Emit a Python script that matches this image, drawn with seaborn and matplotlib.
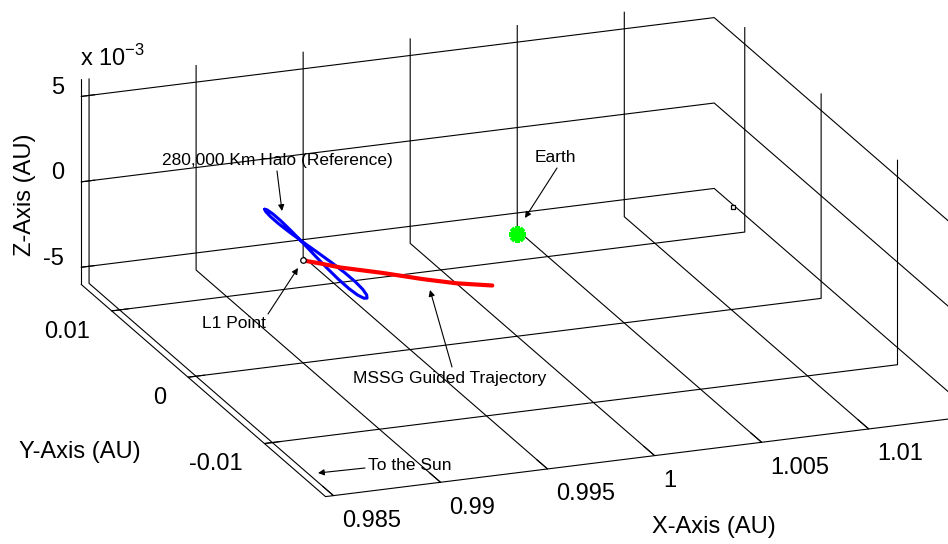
import numpy as np
import matplotlib
matplotlib.use("Agg")
import matplotlib.pyplot as plt
import seaborn as sns
from mpl_toolkits.mplot3d import proj3d

# ---- data (Sun-Earth rotating frame, AU) ----
# 280,000 km reference halo orbit about L1
halo_x = [0.990600, 0.990566, 0.990545, 0.990544, 0.990567, 0.990609, 0.990661,
          0.990709, 0.990739, 0.990743, 0.990717, 0.990666, 0.990600, 0.990534,
          0.990483, 0.990457, 0.990461, 0.990491, 0.990539, 0.990591, 0.990633,
          0.990656, 0.990655, 0.990634, 0.990600]
halo_y = [0.0067, 0.00647, 0.0058, 0.00474, 0.00335, 0.00173, 0.0,
          -0.00173, -0.00335, -0.00474, -0.0058, -0.00647, -0.0067, -0.00647,
          -0.0058, -0.00474, -0.00335, -0.00173, 0.0, 0.00173, 0.00335,
          0.00474, 0.0058, 0.00647, 0.0067]
halo_z = [0.000300, 0.000256, 0.000228, 0.000227, 0.000257, 0.000312, 0.000380,
          0.000441, 0.000481, 0.000485, 0.000452, 0.000385, 0.000300, 0.000215,
          0.000148, 0.000115, 0.000119, 0.000159, 0.000220, 0.000288, 0.000343,
          0.000373, 0.000372, 0.000344, 0.000300]

# MSSG guided trajectory leaving L1
traj_x = [0.99000, 0.99056, 0.99121, 0.99263, 0.99401, 0.99519, 0.99655]
traj_y = [0.0, -0.00069, -0.00157, -0.00293, -0.00443, -0.00554, -0.00642]
traj_z = [0.0, 0.0, 0.0, 0.0, 0.0, 0.0, 0.0]

# libration points and Earth
l1_point = [0.98999, 0.0, 0.0]
earth_point = [0.999997, 0.0, 0.0]
l2_point = [1.01007, 0.0, 0.0]

x_ticks = [0.985, 0.99, 0.995, 1.0, 1.005, 1.01]
x_tick_labels = ["0.985", "0.99", "0.995", "1", "1.005", "1.01"]
y_ticks = [-0.01, 0.0, 0.01]
y_tick_labels = ["-0.01", "0", "0.01"]
z_ticks = [-0.005, 0.0, 0.005]
z_tick_labels = ["-5", "0", "5"]

x_lim = (0.98463, 1.0142)
y_lim = (-0.018, 0.014)
z_lim = (-0.006, 0.006)

# ---- style ----
sns.set_theme(style="white")
plt.rcParams.update({
    "font.family": ["Liberation Sans", "DejaVu Sans"],
    "mathtext.fontset": "custom",
    "mathtext.rm": "Liberation Sans",
    "text.color": "black",
    "axes.labelcolor": "black",
    "xtick.color": "black",
    "ytick.color": "black",
    "grid.color": "black",
    "grid.linewidth": 0.8,
    "grid.linestyle": "-",
    "xtick.major.width": 0.8,
    "ytick.major.width": 0.8,
    "axes3d.automargin": False,
})

W, H = 948, 544
fig = plt.figure(figsize=(W / 100, H / 100), dpi=100)
side = 600.0
ax = fig.add_axes([0.15, 0.0, side / W, side / H], projection="3d", proj_type="ortho")
ax.view_init(elev=19.2, azim=-110.74)
ax.set_xlim(*x_lim)
ax.set_ylim(*y_lim)
ax.set_zlim(*z_lim)
ax.set_box_aspect((673.6, 686.7, 216.0))

ax.set_xticks(x_ticks)
ax.set_xticklabels(x_tick_labels, ha="left")
ax.set_yticks(y_ticks)
ax.set_yticklabels(y_tick_labels, ha="right")
ax.set_zticks(z_ticks)
ax.set_zticklabels(z_tick_labels, ha="right", va="baseline")
ax.tick_params(axis="x", labelsize=17, pad=4.5)
ax.tick_params(axis="y", labelsize=17, pad=4.5)
ax.tick_params(axis="z", labelsize=17, pad=-1)
ax.grid(True)

for axis, outward in ((ax.xaxis, 0.55), (ax.yaxis, 0.33), (ax.zaxis, 0.27)):
    axis.set_pane_color((1, 1, 1, 0))
    axis.line.set_color("black")
    axis.line.set_linewidth(0.8)
    axis._axinfo["tick"]["inward_factor"] = 0.0
    axis._axinfo["tick"]["outward_factor"] = outward
    axis._axinfo["grid"]["color"] = "black"
    axis._axinfo["grid"]["linewidth"] = 0.8

# ---- curves and markers ----
ax.plot(halo_x, halo_y, halo_z, color=(0, 0, 1), lw=2.2, zorder=3)
ax.plot(traj_x, traj_y, traj_z, color=(1, 0, 0), lw=3.0, zorder=4)
ax.plot([l1_point[0]], [l1_point[1]], [l1_point[2]], marker="o", ms=4,
        mfc="white", mec="black", mew=0.9, ls="none", zorder=5)
ax.plot([earth_point[0]], [earth_point[1]], [earth_point[2]], marker=(8, 2, 0),
        ms=12, mec=(0, 1, 0), mew=3.5, ls="none", zorder=5)
ax.plot([l2_point[0]], [l2_point[1]], [l2_point[2]], marker="s", ms=3.5,
        mfc="white", mec="black", mew=0.9, ls="none", zorder=5)

# ---- place the 3D box so its corners land where intended (pixels, y down) ----
fig.canvas.draw()
anchor_data = np.array([
    [x_lim[0], y_lim[1], z_lim[0]],
    [x_lim[0], y_lim[1], 0.005],
    [x_lim[1], y_lim[1], 0.005],
    [x_lim[0], y_lim[0], z_lim[0]],
])
anchor_px = np.array([[80, 283], [81, 98], [716, 19], [325, 495]], dtype=float)
anchor_px[:, 1] = H - anchor_px[:, 1]
px, py, _ = proj3d.proj_transform(anchor_data[:, 0], anchor_data[:, 1],
                                  anchor_data[:, 2], ax.get_proj())
disp = ax.transData.transform(np.column_stack([px, py]))
dm, tm = disp.mean(0), anchor_px.mean(0)
s = ((disp - dm) * (anchor_px - tm)).sum() / ((disp - dm) ** 2).sum()
t = tm - s * dm
bb = ax.bbox
cx, cy = (bb.x0 + bb.x1) / 2, (bb.y0 + bb.y1) / 2
new_side = s * bb.width
ncx, ncy = s * cx + t[0], s * cy + t[1]
ax.set_position([(ncx - new_side / 2) / W, (ncy - new_side / 2) / H,
                 new_side / W, new_side / H])

# ---- overlay for labels and callouts (pixel coordinates, y down) ----
ov = fig.add_axes([0, 0, 1, 1])
ov.set_xlim(0, W)
ov.set_ylim(H, 0)
ov.axis("off")
ov.patch.set_alpha(0)

ov.text(714, 527, "X-Axis (AU)", fontsize=17, ha="center", va="center")
ov.text(80, 452, "Y-Axis (AU)", fontsize=17, ha="center", va="center")
ov.text(25, 195, "Z-Axis (AU)", fontsize=17, ha="center", va="center", rotation=90)
ov.text(80, 58, "x 10$^{\\mathregular{-3}}$", fontsize=17, ha="left", va="center")

arrow = dict(arrowstyle="-|>", color="black", lw=0.8, mutation_scale=9,
             shrinkA=0, shrinkB=0)
ann_fs = 12.5
ov.text(277, 161, "280,000 Km Halo (Reference)", fontsize=ann_fs, ha="center", va="center")
ov.annotate("", xy=(282, 211), xytext=(277, 171), arrowprops=arrow)
ov.text(555, 157, "Earth", fontsize=ann_fs, ha="center", va="center")
ov.annotate("", xy=(525, 218), xytext=(557, 168), arrowprops=arrow)
ov.text(234, 323, "L1 Point", fontsize=ann_fs, ha="center", va="center")
ov.annotate("", xy=(298, 268), xytext=(268, 314), arrowprops=arrow)
ov.text(450, 378, "MSSG Guided Trajectory", fontsize=ann_fs, ha="center", va="center")
ov.annotate("", xy=(430, 290), xytext=(452, 367), arrowprops=arrow)
ov.text(368, 466, "To the Sun", fontsize=ann_fs, ha="left", va="center")
ov.annotate("", xy=(318, 473), xytext=(365, 468), arrowprops=arrow)

fig.savefig("out.png", dpi=100, facecolor="white")
